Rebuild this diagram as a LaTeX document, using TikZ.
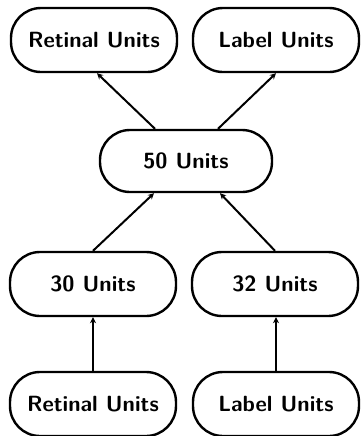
\documentclass[tikz,border=0pt]{standalone}
\usepackage{tikz}
\usetikzlibrary{positioning, arrows.meta}

\begin{document}
\begin{tikzpicture}[
    x=1pt, y=1pt,
    unit/.style={draw, line width=1.2pt, rounded corners=15pt, minimum width=83pt, minimum height=32pt,
        font=\fontsize{11}{13}\selectfont\sffamily\bfseries},
    feed/.style={draw, line width=1pt, -{Stealth[length=3pt, width=3pt]}}
]
\useasboundingbox (0,0) rectangle (181,-218);
% hidden layer in the middle
\node[unit, minimum width=86pt, minimum height=31pt] (hid) at (93,-80.5) {50 Units};
% outputs
\node[unit] (outret) at (47,-20) {Retinal Units};
\node[unit] (outlab) at (138,-20) {Label Units};
% encoding layers
\node[unit] (encret) at (46.5,-142) {30 Units};
\node[unit] (enclab) at (137.5,-142) {32 Units};
% inputs
\node[unit] (inret) at (46.5,-202) {Retinal Units};
\node[unit] (inlab) at (138,-202) {Label Units};

\draw[feed] (inret) -- (encret);
\draw[feed] (inlab.north) -- (enclab.south -| inlab.north);
\draw[feed] (encret.north) -- ([xshift=-16pt]hid.south);
\draw[feed] (enclab.north) -- ([xshift=17pt]hid.south);
\draw[feed] ([xshift=-15.5pt]hid.north) -- ([xshift=1.5pt]outret.south);
\draw[feed] ([xshift=16pt]hid.north) -- (outlab.south);
\end{tikzpicture}
\end{document}
